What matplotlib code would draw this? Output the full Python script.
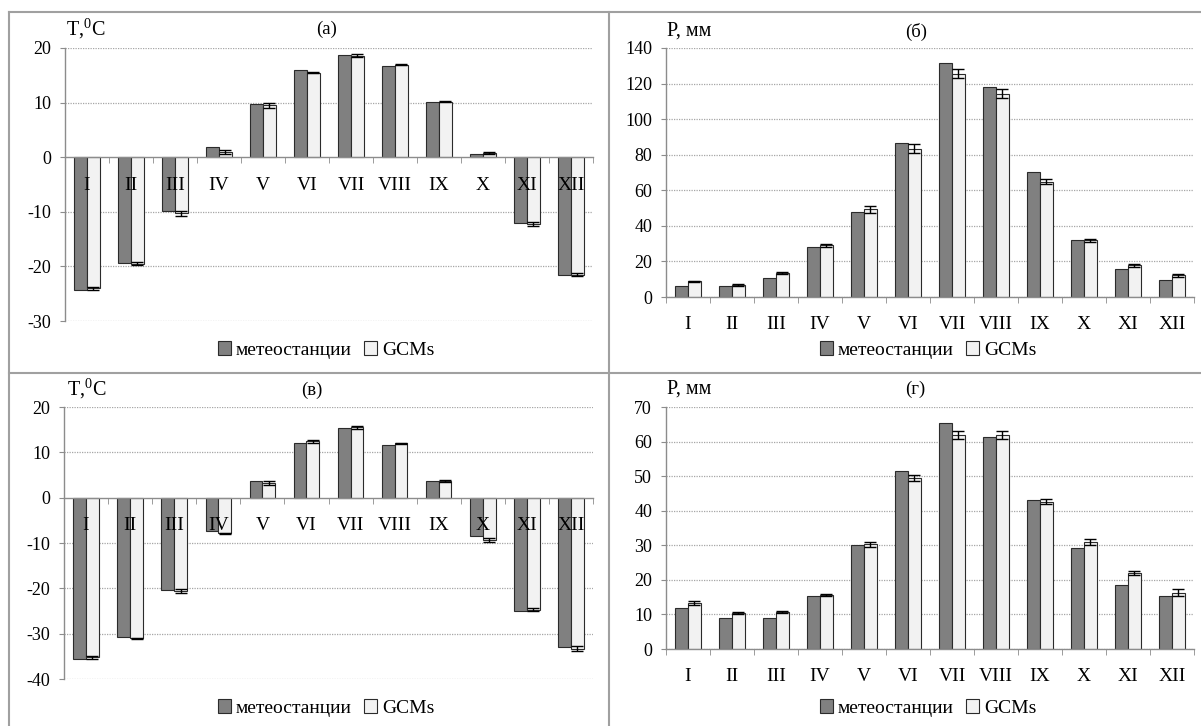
import matplotlib
matplotlib.use("Agg")
import matplotlib.pyplot as plt
from matplotlib.lines import Line2D
from matplotlib.patches import Patch
import numpy as np

plt.rcParams['font.family'] = ['Liberation Serif', 'DejaVu Serif']
plt.rcParams['mathtext.fontset'] = 'custom'
plt.rcParams['mathtext.rm'] = 'Liberation Serif'
plt.rcParams['mathtext.it'] = 'Liberation Serif'

months = ["I", "II", "III", "IV", "V", "VI", "VII", "VIII", "IX", "X", "XI", "XII"]
series_names = ["метеостанции", "GCMs"]

# (а) temperature
t1_met = [-24.4, -19.4, -9.8, 1.8, 9.8, 16.0, 18.8, 16.7, 10.1, 0.6, -12.0, -21.6]
t1_gcm = [-24.0, -19.5, -10.3, 1.0, 9.5, 15.5, 18.6, 16.9, 10.2, 0.7, -12.2, -21.5]
t1_err = [0.3, 0.3, 0.4, 0.4, 0.4, 0.1, 0.3, 0.1, 0.1, 0.2, 0.4, 0.3]

# (б) precipitation
p1_met = [6.4, 6.4, 10.7, 28.2, 47.6, 86.5, 131.8, 118.2, 70.1, 32.0, 15.8, 9.8]
p1_gcm = [8.8, 6.8, 13.3, 29.0, 49.2, 83.3, 125.6, 114.3, 64.8, 31.8, 17.9, 12.2]
p1_err = [0.4, 0.4, 0.5, 1.0, 2.0, 2.5, 2.5, 2.5, 1.5, 1.0, 0.8, 0.8]

# (в) temperature
t2_met = [-35.6, -30.8, -20.3, -7.3, 3.7, 12.0, 15.3, 11.7, 3.7, -8.4, -25.0, -33.0]
t2_gcm = [-35.2, -31.0, -20.6, -7.9, 3.3, 12.4, 15.5, 12.0, 3.7, -9.3, -24.7, -33.3]
t2_err = [0.3, 0.1, 0.5, 0.2, 0.4, 0.4, 0.3, 0.1, 0.2, 0.5, 0.4, 0.5]

# (г) precipitation
p2_met = [12.0, 9.1, 9.1, 15.2, 30.2, 51.6, 65.4, 61.3, 43.2, 29.1, 18.4, 15.2]
p2_gcm = [13.3, 10.4, 10.7, 15.6, 30.3, 49.4, 61.9, 61.8, 42.6, 30.9, 22.0, 16.3]
p2_err = [0.5, 0.4, 0.2, 0.3, 0.7, 0.8, 1.2, 1.2, 0.7, 0.9, 0.6, 1.0]

W, H = 1201, 726

panels = [
    dict(met=t1_met, gcm=t1_gcm, err=t1_err, ylim=(-30, 20), step=10, title="(а)",
         ylabel=r"T,$^{0}$C", pos=[65/W, 1-321/H, 528/W, 273/H], zero=True),
    dict(met=p1_met, gcm=p1_gcm, err=p1_err, ylim=(0, 140), step=20, title="(б)",
         ylabel="P, мм", pos=[666/W, 1-297/H, 528/W, 249/H], zero=False),
    dict(met=t2_met, gcm=t2_gcm, err=t2_err, ylim=(-40, 20), step=10, title="(в)",
         ylabel=r"T,$^{0}$C", pos=[64/W, 1-679/H, 529/W, 272/H], zero=True),
    dict(met=p2_met, gcm=p2_gcm, err=p2_err, ylim=(0, 70), step=10, title="(г)",
         ylabel="P, мм", pos=[666/W, 1-649/H, 528/W, 242/H], zero=False),
]

title_xy = [(327, 29), (916, 32), (312, 390), (915, 389)]
ylab_xy = [(66, 29), (667, 31), (67, 389), (667, 389)]
leg_xy = [(326, 350), (928, 350), (326, 708), (928, 708)]

met_color = "#808080"
gcm_color = "#f2f2f2"
edge_color = "#2b2b2b"
axis_gray = "#8c8c8c"

fig = plt.figure(figsize=(12.01, 7.26), dpi=100)

x = np.arange(len(months))
w = 0.29

for k, p in enumerate(panels):
    ax = fig.add_axes(p["pos"])
    ax.set_xlim(-0.5, len(months) - 0.5)
    ax.set_ylim(*p["ylim"])
    yt = np.arange(p["ylim"][0], p["ylim"][1] + 0.01, p["step"])
    ax.set_yticks(yt)
    ax.set_yticklabels([f"{int(v)}" for v in yt])
    # grid lines behind bars
    ax.hlines([v for v in yt if v != 0 or not p["zero"]], -0.5, len(months) - 0.5,
              colors="#a6a6a6", linestyles=(0, (1, 1)), linewidth=0.9, zorder=0.5)
    ax.bar(x - w/2, p["met"], w, color=met_color, edgecolor=edge_color, linewidth=0.8, zorder=1)
    ax.bar(x + w/2, p["gcm"], w, color=gcm_color, edgecolor=edge_color, linewidth=0.8, zorder=1)
    ax.errorbar(x + w/2, p["gcm"], yerr=p["err"], fmt="none", ecolor="black",
                elinewidth=1.0, capsize=4, capthick=1.0, zorder=3)

    for s in ["top", "right"]:
        ax.spines[s].set_visible(False)
    ax.spines["left"].set_color(axis_gray)
    ax.spines["bottom"].set_color(axis_gray)
    ax.spines["left"].set_linewidth(1.0)
    ax.spines["bottom"].set_linewidth(1.0)
    if p["zero"]:
        ax.spines["bottom"].set_position(("data", 0))

    ax.set_xticks(x)
    ax.set_xticklabels(months)
    ax.set_xticks(np.arange(-0.5, len(months)), minor=True)
    ax.tick_params(axis="x", which="major", length=0, pad=14, labelsize=14)
    ax.tick_params(axis="x", which="minor", length=4.5, direction="out", color=axis_gray)
    ax.tick_params(axis="y", length=3.5, direction="out", color=axis_gray, labelsize=13,
                   pad=6.5)

    fig.text(title_xy[k][0]/W, 1 - title_xy[k][1]/H, p["title"], ha="center", va="center",
             fontsize=13.5)
    fig.text(ylab_xy[k][0]/W, 1 - ylab_xy[k][1]/H, p["ylabel"], ha="left", va="center",
             fontsize=14.5)

    handles = [Patch(facecolor=met_color, edgecolor=edge_color, linewidth=0.8),
               Patch(facecolor=gcm_color, edgecolor=edge_color, linewidth=0.8)]
    fig.legend(handles, series_names, loc="center",
               bbox_to_anchor=(leg_xy[k][0]/W, 1 - leg_xy[k][1]/H),
               ncol=2, frameon=False, fontsize=14, handlelength=0.7, handleheight=0.7,
               handletextpad=0.25, columnspacing=0.6, borderpad=0)

# panel frame lines
lc = "#a0a0a0"
fig.add_artist(Line2D([9/W, 1], [1-12/H, 1-12/H], color=lc, linewidth=1.5))
fig.add_artist(Line2D([9/W, 9/W], [0, 1-12/H], color=lc, linewidth=1.5))
fig.add_artist(Line2D([609/W, 609/W], [0, 1-12/H], color=lc, linewidth=1.5))
fig.add_artist(Line2D([9/W, 1], [1-373/H, 1-373/H], color=lc, linewidth=1.5))

fig.savefig("out.png", dpi=100)
